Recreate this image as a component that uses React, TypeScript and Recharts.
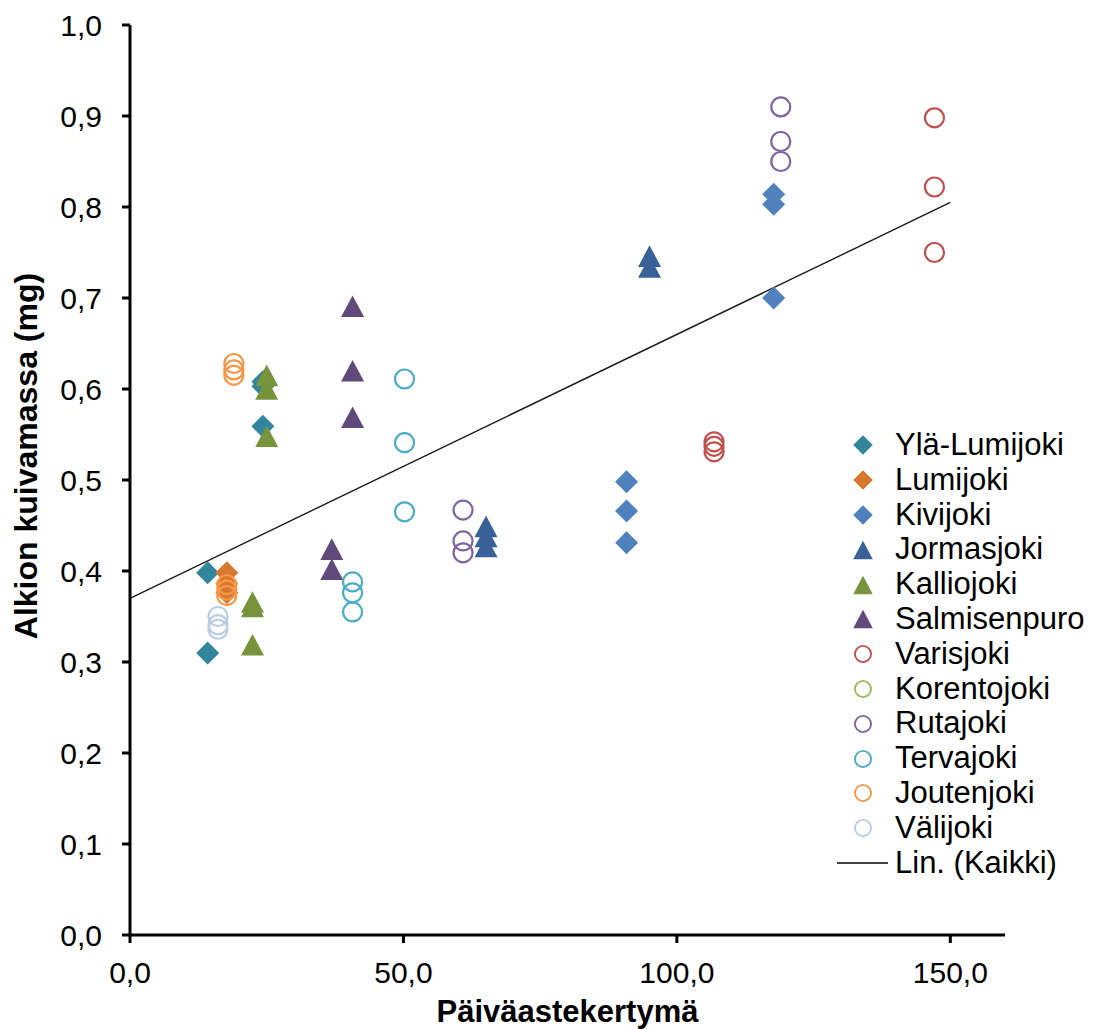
import { Label, Legend, ReferenceLine, Scatter, ScatterChart, XAxis, YAxis } from "recharts";

const FONT = '"Liberation Sans", Arial, Helvetica, sans-serif';

// [päiväastekertymä, alkion kuivamassa (mg)]
const ylaLumijoki = [[14.2, 0.398], [14.2, 0.31], [24.3, 0.608], [24.3, 0.603], [24.3, 0.559]];
const lumijoki = [[17.7, 0.398], [17.7, 0.386], [17.7, 0.376]];
const kivijoki = [[90.8, 0.498], [90.8, 0.466], [90.8, 0.431], [117.7, 0.814], [117.7, 0.803], [117.7, 0.7]];
const jormasjoki = [[65.1, 0.449], [65.1, 0.438], [65.1, 0.427], [95.0, 0.746], [95.0, 0.734]];
const kalliojoki = [[25.0, 0.615], [25.0, 0.6], [25.0, 0.548], [22.4, 0.366], [22.4, 0.361], [22.4, 0.319]];
const salmisenpuro = [[40.7, 0.691], [40.7, 0.62], [40.7, 0.569], [36.9, 0.424], [36.9, 0.402]];
const varisjoki = [[147.1, 0.898], [147.1, 0.822], [147.1, 0.75], [106.8, 0.542], [106.8, 0.537], [106.8, 0.531]];
const korentojoki: number[][] = [];
const rutajoki = [[60.9, 0.467], [60.9, 0.433], [60.9, 0.42], [119.0, 0.91], [119.0, 0.872], [119.0, 0.85]];
const tervajoki = [[50.2, 0.611], [50.2, 0.541], [50.2, 0.465], [40.7, 0.388], [40.7, 0.376], [40.7, 0.355]];
const joutenjoki = [[19.0, 0.628], [19.0, 0.621], [19.0, 0.615], [17.7, 0.385], [17.7, 0.379], [17.7, 0.373]];
const valijoki = [[16.1, 0.35], [16.1, 0.341], [16.1, 0.336]];

// Lin. (Kaikki) endpoints
const TREND = [{ x: 0, y: 0.37 }, { x: 150, y: 0.805 }];

const X_TICKS = [0, 50, 100, 150];
const Y_TICKS = [0, 0.1, 0.2, 0.3, 0.4, 0.5, 0.6, 0.7, 0.8, 0.9, 1.0];

type Marker = "diamond" | "triangle" | "circle";

const SERIES: { name: string; color: string; marker: Marker; points: number[][] }[] = [
  { name: "Ylä-Lumijoki", color: "#31859C", marker: "diamond", points: ylaLumijoki },
  { name: "Lumijoki", color: "#D7782F", marker: "diamond", points: lumijoki },
  { name: "Kivijoki", color: "#4F81BD", marker: "diamond", points: kivijoki },
  { name: "Jormasjoki", color: "#386297", marker: "triangle", points: jormasjoki },
  { name: "Kalliojoki", color: "#77933C", marker: "triangle", points: kalliojoki },
  { name: "Salmisenpuro", color: "#604A7B", marker: "triangle", points: salmisenpuro },
  { name: "Varisjoki", color: "#C0504D", marker: "circle", points: varisjoki },
  { name: "Korentojoki", color: "#9BBB59", marker: "circle", points: korentojoki },
  { name: "Rutajoki", color: "#8064A2", marker: "circle", points: rutajoki },
  { name: "Tervajoki", color: "#4BACC6", marker: "circle", points: tervajoki },
  { name: "Joutenjoki", color: "#F79646", marker: "circle", points: joutenjoki },
  { name: "Välijoki", color: "#B9CDE5", marker: "circle", points: valijoki },
];

const fmt = (v: number) => v.toFixed(1).replace(".", ",");

function MarkerShape({ cx, cy, marker, color, scale = 1 }: { cx: number; cy: number; marker: Marker; color: string; scale?: number }) {
  if (marker === "diamond") {
    const h = 11.5 * scale;
    return <polygon points={`${cx},${cy - h} ${cx + h},${cy} ${cx},${cy + h} ${cx - h},${cy}`} fill={color} />;
  }
  if (marker === "triangle") {
    const w = 11.5 * scale;
    const h = 10.8 * scale;
    return <polygon points={`${cx},${cy - h} ${cx + w},${cy + h} ${cx - w},${cy + h}`} fill={color} />;
  }
  return <circle cx={cx} cy={cy} r={9.5 * scale} fill="none" stroke={color} strokeWidth={2.2 * scale} />;
}

function LegendBox() {
  const row = { display: "flex", alignItems: "center", height: 34.8 } as const;
  return (
    <div style={{ fontFamily: FONT, fontSize: 31, color: "#000", lineHeight: "34.8px" }}>
      {SERIES.map((s) => (
        <div key={s.name} style={row}>
          <svg width="51" height="34" aria-hidden>
            <MarkerShape cx={26} cy={17} marker={s.marker} color={s.color} scale={0.85} />
          </svg>
          <span style={{ marginLeft: 7, whiteSpace: "nowrap" }}>{s.name}</span>
        </div>
      ))}
      <div style={row}>
        <svg width="51" height="34" aria-hidden>
          <line x1="0" y1="17" x2="51" y2="17" stroke="#000" strokeWidth="1.5" />
        </svg>
        <span style={{ marginLeft: 7, whiteSpace: "nowrap" }}>Lin. (Kaikki)</span>
      </div>
    </div>
  );
}

export default function App() {
  const tick = { fill: "#000", fontSize: 30, fontFamily: FONT };
  const axis = { stroke: "#000", strokeWidth: 3 };
  return (
    <div style={{ position: "absolute", left: 0, top: 0, background: "#fff" }}>
      <ScatterChart width={1097} height={1029} margin={{ top: 25, right: 92, bottom: 0, left: 0 }}>
        <XAxis
          type="number"
          dataKey="x"
          domain={[0, 160]}
          ticks={X_TICKS}
          tickFormatter={fmt}
          tick={tick}
          axisLine={axis}
          tickLine={axis}
          tickSize={8}
          tickMargin={19}
          height={94}
          allowDataOverflow
          label={
            <Label
              content={(p: any) => (
                <text
                  x={p.viewBox.x + p.viewBox.width / 2}
                  y={p.viewBox.y + 87}
                  textAnchor="middle"
                  fontFamily={FONT}
                  fontWeight="bold"
                  fontSize={31}
                  fill="#000"
                >
                  Päiväastekertymä
                </text>
              )}
            />
          }
        />
        <YAxis
          type="number"
          dataKey="y"
          domain={[0, 1]}
          ticks={Y_TICKS}
          tickFormatter={fmt}
          tick={tick}
          axisLine={axis}
          tickLine={axis}
          tickSize={8}
          tickMargin={20}
          width={130}
          allowDataOverflow
          label={
            <Label
              content={(p: any) => {
                const x = p.viewBox.x + 37;
                const y = p.viewBox.y + p.viewBox.height / 2 - 24;
                return (
                  <text
                    x={x}
                    y={y}
                    transform={`rotate(-90 ${x} ${y})`}
                    textAnchor="middle"
                    fontFamily={FONT}
                    fontWeight="bold"
                    fontSize={32}
                    fill="#000"
                  >
                    Alkion kuivamassa (mg)
                  </text>
                );
              }}
            />
          }
        />
        {SERIES.map((s) => (
          <Scatter
            key={s.name}
            name={s.name}
            data={s.points.map(([x, y]) => ({ x, y }))}
            isAnimationActive={false}
            shape={(p: any) => <MarkerShape cx={p.cx} cy={p.cy} marker={s.marker} color={s.color} />}
          />
        ))}
        <ReferenceLine segment={TREND} stroke="#1a1a1a" strokeWidth={1.4} ifOverflow="visible" />
        <Legend
          layout="vertical"
          align="center"
          verticalAlign="middle"
          content={() => <LegendBox />}
          wrapperStyle={{ left: 837, top: 428, width: 260, height: "auto" }}
        />
      </ScatterChart>
    </div>
  );
}
